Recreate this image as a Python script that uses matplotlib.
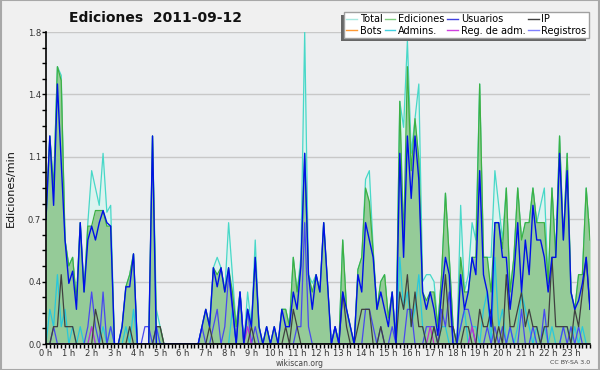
import matplotlib
matplotlib.use("Agg")
import matplotlib.pyplot as plt
from matplotlib.patches import Rectangle
from matplotlib.lines import Line2D
from matplotlib.ticker import MultipleLocator
import numpy as np

hour_labels = [f"{h} h" for h in range(24)]
y_ticks = [0.0, 0.36, 0.72, 1.08, 1.44, 1.8]

# values per 10-minute bin (edits/min)
total = [
    .72, 1.2, .9, 1.6, 1.55, .6,
    .45, .5, .25, .7, .3, .7,
    1.0, .9, .8, 1.1, .76, .8,
    0, 0, .1, .33, .4, .52,
    0, 0, 0, 0, 1.2, .2,
    .1, 0, 0, 0, 0, 0,
    0, 0, 0, 0, 0, .1,
    .2, .1, .44, .5, .44, .3,
    .7, .4, .1, .3, 0, .3,
    .1, .6, .1, 0, .1, 0,
    .1, 0, .2, .2, .1, .5,
    .3, .5, 1.8, .4, .35, .4,
    .3, .7, .35, 0, .1, 0,
    .6, .2, .1, 0, .43, .5,
    .95, 1.0, .55, .2, .36, .4,
    .15, .3, 0, 1.4, 1.25, 1.75,
    1.1, 1.3, 1.5, .36, .4, .4,
    .36, .1, .4, .87, .5, .1,
    0, .8, .3, .4, .7, .6,
    1.5, .5, .5, .5, 1.0, .8,
    .6, .9, .3, .5, .9, .6,
    .7, .7, .9, .7, .8, .9,
    .35, .9, .5, 1.2, .6, 1.1,
    .3, .2, .4, .4, .9, .6,
]
ediciones = [
    .72, 1.2, .9, 1.6, 1.52, .6,
    .45, .5, .25, .7, .3, .68,
    .68, .77, .77, .77, .68, .68,
    0, 0, .1, .33, .4, .52,
    0, 0, 0, 0, 1.2, .1,
    .1, 0, 0, 0, 0, 0,
    0, 0, 0, 0, 0, .1,
    .2, .1, .44, .4, .44, .3,
    .44, .3, .1, .3, 0, .2,
    .1, .5, .1, 0, .1, 0,
    .1, 0, .2, .2, .1, .5,
    .3, .45, 1.1, .4, .3, .4,
    .3, .7, .35, 0, .1, 0,
    .6, .2, .1, 0, .43, .5,
    .9, .82, .53, .2, .36, .4,
    .15, .3, 0, 1.4, .6, 1.6,
    1.0, 1.3, 1.07, .3, .25, .3,
    .3, .1, .4, .87, .5, .1,
    0, .5, .3, .3, .5, .5,
    1.5, .5, .5, .3, .7, .7,
    .55, .9, .3, .5, .9, .6,
    .7, .7, .9, .7, .7, .7,
    .35, .9, .5, 1.2, .6, 1.1,
    .3, .2, .4, .4, .9, .6,
]
usuarios = [
    .72, 1.2, .8, 1.5, 1.05, .6,
    .35, .42, .2, .7, .3, .6,
    .68, .6, .7, .77, .7, .68,
    0, 0, .1, .33, .33, .52,
    0, 0, 0, 0, 1.2, 0,
    0, 0, 0, 0, 0, 0,
    0, 0, 0, 0, 0, .1,
    .2, .1, .44, .33, .44, .3,
    .44, .22, 0, .3, 0, .2,
    .1, .5, .1, 0, .1, 0,
    .1, 0, .2, .1, .1, .3,
    .2, .45, 1.1, .4, .2, .4,
    .3, .7, .35, 0, .1, 0,
    .3, .2, .1, 0, .4, .3,
    .7, .6, .5, .2, .3, .2,
    .1, .3, 0, 1.1, .5, 1.2,
    .84, 1.2, .95, .3, .2, .3,
    .2, .05, .3, .5, .4, 0,
    0, .4, .2, .3, .5, .4,
    1.0, .4, .3, .1, .7, .7,
    .5, .5, .2, .4, .7, .3,
    .6, .4, .8, .6, .6, .5,
    .3, .5, .5, 1.1, .6, 1.0,
    .3, .2, .25, .35, .5, .2,
]
ip = [
    0, 0, .1, .1, .4, .1,
    .1, .1, 0, 0, 0, 0,
    0, .2, .1, 0, 0, 0,
    0, 0, 0, 0, .1, 0,
    0, 0, 0, 0, 0, .1,
    .1, 0, 0, 0, 0, 0,
    0, 0, 0, 0, 0, 0,
    0, .1, 0, 0, 0, 0,
    0, 0, 0, 0, 0, 0,
    .1, 0, 0, 0, 0, 0,
    0, 0, 0, .1, 0, .2,
    .1, 0, 0, 0, 0, 0,
    0, 0, 0, 0, 0, 0,
    .3, .1, 0, 0, .1, .2,
    .2, .2, 0, 0, .1, 0,
    0, 0, 0, .3, .2, .4,
    .1, .3, .1, .1, 0, 0,
    .1, 0, .1, .4, .1, .1,
    0, 0, .1, .1, 0, 0,
    .2, .1, .1, .2, 0, .1,
    0, .4, .1, .1, .2, .3,
    .1, .2, .1, .1, 0, .1,
    .1, .5, .1, .1, .1, .1,
    0, .2, .1, .3, .5, .2,
]
admins = [
    0, .2, .1, .4, .1, .2,
    0, .1, 0, .1, 0, 0,
    .1, 0, 0, .1, 0, .1,
    0, 0, 0, .1, 0, .2,
    0, 0, 0, 0, 0, .1,
    0, 0, 0, 0, 0, 0,
    0, 0, 0, 0, 0, 0,
    0, 0, 0, 0, 0, 0,
    0, .2, 0, 0, 0, 0,
    0, 0, 0, 0, 0, 0,
    0, 0, 0, 0, 0, 0,
    0, 0, 0, 0, 0, 0,
    0, 0, 0, 0, 0, 0,
    0, 0, 0, 0, 0, 0,
    0, 0, 0, 0, 0, 0,
    0, 0, 0, .5, .2, .3,
    .1, .2, .4, .1, 0, 0,
    0, 0, .1, .1, 0, 0,
    0, .1, .2, 0, .1, .1,
    0, .2, .3, 0, .5, .1,
    .2, 0, .1, 0, .1, .3,
    .2, .1, 0, .1, 0, .1,
    0, .1, 0, 0, .1, .1,
    0, .1, 0, .1, 0, 0,
]
registros = [
    0, 0, .1, 0, 0, 0,
    0, 0, 0, 0, 0, .1,
    .3, .1, 0, .3, 0, .1,
    0, 0, 0, 0, 0, 0,
    0, 0, .1, .1, 0, .1,
    0, 0, 0, 0, 0, 0,
    0, 0, 0, 0, 0, .1,
    0, 0, .1, .2, 0, .1,
    .4, .2, 0, .3, 0, .2,
    0, .1, 0, 0, 0, 0,
    0, 0, 0, 0, 0, 0,
    .1, .1, .7, .1, 0, 0,
    0, 0, 0, 0, .1, 0,
    0, 0, 0, 0, 0, 0,
    .2, .2, .1, 0, .1, 0,
    0, .1, 0, 0, 0, .2,
    .2, 0, 0, 0, .1, .1,
    .1, 0, .2, .1, .3, 0,
    0, .1, .2, .2, .1, 0,
    0, 0, .1, 0, .1, 0,
    .1, 0, .1, 0, 0, .2,
    0, 0, .1, 0, 0, .2,
    0, 0, 0, 0, .1, 0,
    .1, 0, .1, 0, 0, 0,
]
reg_adm = [0.0] * 144
reg_adm_points = {12: .1, 53: .1, 101: .1, 112: .1}
for k, v in reg_adm_points.items():
    reg_adm[k] = v

x = np.arange(len(total))

fig = plt.figure(figsize=(6, 3.7), dpi=100, facecolor="#f0f0f0")
ax = fig.add_axes([46 / 600, 1 - 344 / 370, 544 / 600, 312 / 370])
ax.set_facecolor("#eceef0")

ax.fill_between(x, total, color="#dcf3ef", lw=0, zorder=1)
ax.plot(x, total, color="#48d8c8", lw=0.9, zorder=2)
ax.fill_between(x, ediciones, color="#95cb98", lw=0, zorder=2)
ax.plot(x, ediciones, color="#3cb043", lw=0.9, zorder=3)
ax.plot(x, admins, color="#28c8dc", lw=0.9, zorder=4)
ax.plot(x, registros, color="#4848f0", lw=0.9, zorder=4)
ax.plot(x, reg_adm, color="#c030d0", lw=0.9, zorder=4)
ax.plot(x, ip, color="#404040", lw=0.9, zorder=5)
ax.plot(x, usuarios, color="#0010e8", lw=1.0, zorder=6)

ax.set_xlim(0, 143)
ax.set_ylim(0, 1.8)
ax.set_yticks(y_ticks)
ax.set_yticklabels([f"{v:.1f}" for v in y_ticks])
ax.yaxis.set_minor_locator(MultipleLocator(0.09))
ax.set_xticks(np.arange(0, 144, 6))
ax.set_xticklabels(hour_labels)
ax.xaxis.set_minor_locator(MultipleLocator(1))
ax.tick_params(axis="both", which="major", labelsize=6, colors="#000000",
               labelcolor="#333333", length=3, width=1, pad=0.5)
ax.tick_params(axis="both", which="minor", length=3, width=1, color="#000000")
ax.grid(axis="y", color="#c8c8c8", lw=1)
ax.set_axisbelow(True)
for s in ["top", "right"]:
    ax.spines[s].set_visible(False)
for s in ["left", "bottom"]:
    ax.spines[s].set_color("#000000")
    ax.spines[s].set_linewidth(1.2)
    ax.spines[s].set_zorder(10)

fig.text(155 / 600, 1 - 18 / 370, "Ediciones  2011-09-12", ha="center", va="center",
         fontsize=10, fontweight="bold", color="#111111")
fig.text(11 / 600, 1 - 188 / 370, "Ediciones/min", rotation=90, ha="center", va="center",
         fontsize=8, color="#111111")
fig.text(300 / 600, 1 - 363 / 370, "wikiscan.org", ha="center", va="center",
         fontsize=5.5, color="#444444")
fig.text(590 / 600, 1 - 363 / 370, "CC BY-SA 3.0", ha="right", va="center",
         fontsize=4.5, color="#444444")

legend_names = ["Total", "Bots", "Ediciones", "Admins.", "Usuarios", "Reg. de adm.", "IP", "Registros"]
legend_colors = ["#a8e8e0", "#ff9933", "#80d080", "#40d0e0", "#4040e0", "#d040e0", "#404040", "#8080ff"]
handles = [Line2D([0], [0], color=c, lw=1.0) for c in legend_colors]
leg = fig.legend(handles, legend_names, ncol=4, loc="upper right",
                 bbox_to_anchor=(589 / 600, 1 - 12 / 370), fontsize=7,
                 handlelength=1.1, handletextpad=0.3, columnspacing=0.25,
                 labelspacing=0.12, borderpad=0.25, borderaxespad=0,
                 fancybox=False, framealpha=1, facecolor="#ffffff", edgecolor="#a0a0a0")
leg.get_frame().set_linewidth(1.0)
leg.set_zorder(20)

fig.canvas.draw()
bb = leg.get_window_extent().transformed(fig.transFigure.inverted())
shadow = Rectangle((bb.x0 - 3 / 600, bb.y0 - 3 / 370), bb.width, bb.height,
                   transform=fig.transFigure, facecolor="#666666", edgecolor="none", zorder=19)
fig.patches.append(shadow)
border = Rectangle((0.001, 0.001), 0.998, 0.998, transform=fig.transFigure,
                   fill=False, edgecolor="#a8a8a8", lw=1.5, zorder=30)
fig.patches.append(border)

fig.savefig("out.png", dpi=100, facecolor=fig.get_facecolor())
